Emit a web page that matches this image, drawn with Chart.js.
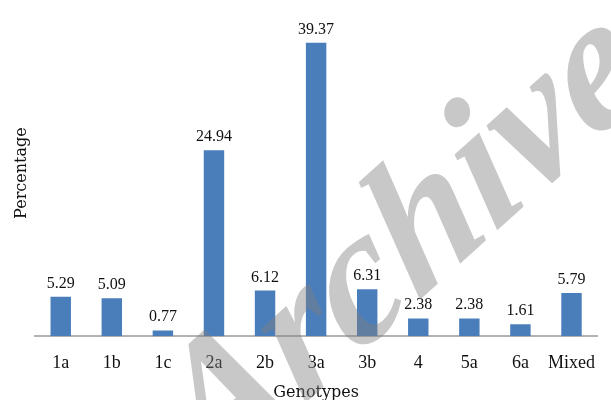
<!DOCTYPE html>
<html>
<head>
<meta charset="utf-8">
<script src="https://cdn.jsdelivr.net/npm/chart.js@4.4.1/dist/chart.umd.min.js"></script>
<style>
  html, body { margin: 0; padding: 0; background: #fff; }
  #wrap { width: 611px; height: 400px; }
</style>
</head>
<body>
<div id="wrap"><canvas id="grafico"></canvas></div>
<script>
const genotypes = ["1a", "1b", "1c", "2a", "2b", "3a", "3b", "4", "5a", "6a", "Mixed"];
const percentages = [5.29, 5.09, 0.77, 24.94, 6.12, 39.37, 6.31, 2.38, 2.38, 1.61, 5.79];

const serif = "'Liberation Serif', 'DejaVu Serif', serif";
const wideSerif = "'DejaVu Serif', serif";

// value labels above each bar
const valueLabels = {
    id: "valueLabels",
    afterDatasetsDraw(chart) {
        const ctx = chart.ctx;
        const meta = chart.getDatasetMeta(0);
        ctx.save();
        ctx.font = "16px " + serif;
        ctx.fillStyle = "#111";
        ctx.textAlign = "center";
        ctx.textBaseline = "alphabetic";
        meta.data.forEach((bar, i) => {
            ctx.fillText(percentages[i].toFixed(2), bar.x, bar.y - 9);
        });
        ctx.restore();
    }
};

// grey watermark over the chart
const watermark = {
    id: "watermark",
    afterDraw(chart) {
        const ctx = chart.ctx;
        ctx.save();
        ctx.translate(211, 488);
        ctx.rotate(-42 * Math.PI / 180);
        ctx.transform(1, 0, -0.15, 1, 0, 0);
        ctx.font = "italic bold 185px " + serif;
        ctx.fillStyle = "rgba(128,128,128,0.43)";
        ctx.textBaseline = "alphabetic";
        ctx.fillText("Archive", 0, 0);
        ctx.restore();
    }
};

new Chart(document.getElementById("grafico"), {
    type: "bar",
    data: {
        labels: genotypes,
        datasets: [{
            data: percentages,
            backgroundColor: "#4a7ebb",
            barPercentage: 0.8,
            categoryPercentage: 0.5
        }]
    },
    options: {
        responsive: true,
        maintainAspectRatio: false,
        animation: false,
        layout: { padding: { top: 10, left: 8, right: 0, bottom: 0 } },
        plugins: {
            legend: { display: false },
            tooltip: { enabled: false }
        },
        scales: {
            x: {
                grid: { display: false, drawTicks: false },
                border: { color: "#b3b3b3", width: 2 },
                ticks: {
                    color: "#111",
                    padding: 16,
                    autoSkip: false,
                    maxRotation: 0,
                    minRotation: 0,
                    font: { family: serif, size: 18 }
                },
                title: {
                    display: true,
                    text: "Genotypes",
                    color: "#111",
                    padding: { top: -7, bottom: -2 },
                    font: { family: wideSerif, size: 16 }
                }
            },
            y: {
                min: 0,
                max: 43.75,
                grid: { display: false, drawTicks: false },
                border: { display: false },
                ticks: { display: false },
                title: {
                    display: true,
                    text: "Percentage",
                    color: "#111",
                    padding: { top: 4, bottom: 4 },
                    font: { family: wideSerif, size: 16 }
                }
            }
        }
    },
    plugins: [valueLabels, watermark]
});
</script>
</body>
</html>
